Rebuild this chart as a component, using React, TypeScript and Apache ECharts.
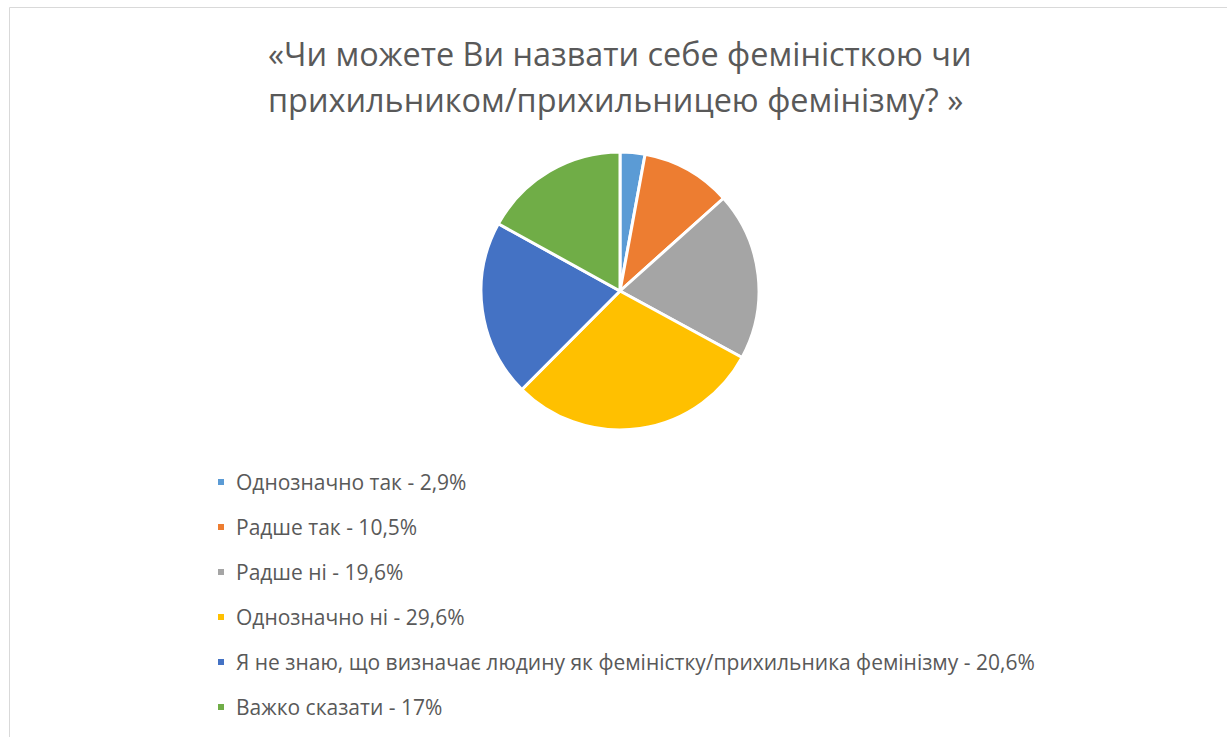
import React, { useEffect, useRef } from "react";
import * as echarts from "echarts";

const titleLines = [
  "«Чи можете Ви назвати себе феміністкою чи",
  "прихильником/прихильницею фемінізму? »",
];
const categories = [
  "Однозначно так - 2,9%",
  "Радше так - 10,5%",
  "Радше ні - 19,6%",
  "Однозначно ні - 29,6%",
  "Я не знаю, що визначає людину як феміністку/прихильника фемінізму - 20,6%",
  "Важко сказати - 17%",
];
const values = [2.9, 10.5, 19.6, 29.6, 20.6, 17];
const colors = ["#5B9BD5", "#ED7D31", "#A5A5A5", "#FFC000", "#4472C4", "#70AD47"];

const FONT = "'Open Sans', 'Noto Sans', sans-serif";

export default function App() {
  const ref = useRef<HTMLDivElement>(null);
  useEffect(() => {
    if (!ref.current) return;
    const chart = echarts.init(ref.current, null, { renderer: "svg" });
    chart.setOption({
      animation: false,
      backgroundColor: "#ffffff",
      title: {
        text: titleLines.join("\n"),
        left: 263,
        top: 25,
        textAlign: "left",
        textStyle: {
          fontFamily: FONT,
          fontSize: 32.4,
          fontWeight: "normal",
          color: "#595959",
          lineHeight: 46,
          align: "center",
        },
      },
      legend: {
        orient: "vertical",
        left: 211,
        top: 465,
        itemWidth: 8,
        itemHeight: 8,
        itemGap: 21,
        icon: "rect",
        data: categories,
        textStyle: {
          fontFamily: FONT,
          fontSize: 21,
          color: "#595959",
          lineHeight: 24,
          padding: [0, 0, 0, 6],
        },
      },
      graphic: [
        {
          type: "rect",
          shape: { x: 9.5, y: 7.5, width: 1300, height: 800 },
          style: { fill: "none", stroke: "#d9d9d9", lineWidth: 1 },
          silent: true,
        },
      ],
      series: [
        {
          type: "pie",
          center: [620, 291],
          radius: 139,
          startAngle: 90,
          clockwise: true,
          label: { show: false },
          labelLine: { show: false },
          itemStyle: { borderColor: "#ffffff", borderWidth: 3 },
          emphasis: { disabled: true },
          data: categories.map((c, i) => ({
            name: c,
            value: values[i],
            itemStyle: { color: colors[i] },
          })),
        },
      ],
    });
    return () => chart.dispose();
  }, []);
  return (
    <div
      ref={ref}
      style={{ position: "fixed", left: 0, top: 0, width: 1227, height: 737 }}
    />
  );
}
